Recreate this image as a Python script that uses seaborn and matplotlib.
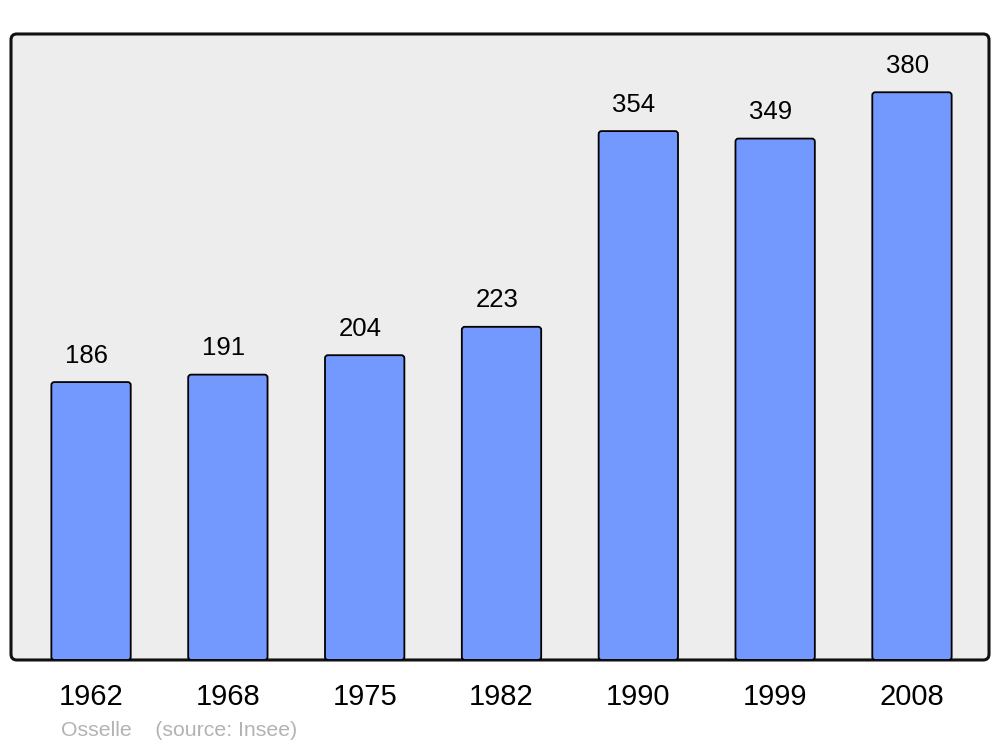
import matplotlib
matplotlib.use("Agg")
import matplotlib.pyplot as plt
import seaborn as sns
import pandas as pd
from matplotlib.patches import FancyBboxPatch

years = ["1962", "1968", "1975", "1982", "1990", "1999", "2008"]
population = [186, 191, 204, 223, 354, 349, 380]

sns.set_theme(style="white")
plt.rcParams['font.family'] = ['Liberation Sans', 'DejaVu Sans']

fig = plt.figure(figsize=(10, 7.47), dpi=100)
ax = fig.add_axes([0.011, 0.1165, 0.978, 0.838])
ax.set_facecolor("none")

df = pd.DataFrame({"year": years, "pop": population})
sns.barplot(data=df, x="year", y="pop", color="#7399ff", saturation=1,
            width=0.58, edgecolor="black", linewidth=1.3, ax=ax)

ax.set_xlim(-0.585, 6.563)
ax.set_ylim(0, 419)

# frame with rounded corners
frame = FancyBboxPatch((0, 0), 1, 1, boxstyle="round,pad=0,rounding_size=0.006",
                       transform=ax.transAxes, facecolor="#ededed",
                       edgecolor="#111111", linewidth=2.2, zorder=0,
                       mutation_aspect=978/626, clip_on=False)
ax.add_patch(frame)

# rounded bars from the bar geometry
xpx = 978 / (6.563 + 0.585)
ypx = 626 / 419
for p in list(ax.patches):
    if p is frame:
        continue
    x, y, w, h = p.get_x(), p.get_y(), p.get_width(), p.get_height()
    rb = FancyBboxPatch((x, y), w, h, boxstyle="round,pad=0,rounding_size=%f" % (3 / xpx),
                        mutation_aspect=xpx / ypx, facecolor=p.get_facecolor(),
                        edgecolor="black", linewidth=1.3, zorder=2)
    p.set_visible(False)
    ax.add_patch(rb)
    ax.annotate(f"{int(round(h))}", (x + w / 2, h), xytext=(-3.3, 10.5),
                textcoords="offset points", ha="center", va="bottom",
                fontsize=18.5, color="black")

for s in ax.spines.values():
    s.set_visible(False)
ax.set_yticks([])
ax.set_xlabel("")
ax.set_ylabel("")
ax.tick_params(axis="x", length=0, pad=16.5, labelsize=21, colors="black")

fig.text(0.061, 1 - 730 / 747, "Osselle    (source: Insee)", color="#b3b3b3",
         fontsize=15.3, ha="left", va="center")

fig.savefig("out.png", dpi=100, facecolor="white")
